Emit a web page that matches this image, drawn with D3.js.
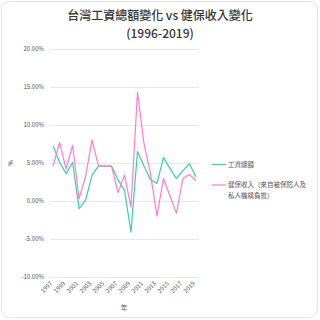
<!DOCTYPE html>
<html><head><meta charset="utf-8">
<script src="https://cdn.jsdelivr.net/npm/d3@7"></script>
<style>html,body{margin:0;padding:0;background:#fff;}svg{display:block;}</style>
</head><body>
<svg id="c" width="320" height="320"></svg>
<script>
const years = [1997,1998,1999,2000,2001,2002,2003,2004,2005,2006,2007,2008,2009,2010,2011,2012,2013,2014,2015,2016,2017,2018,2019];
const wageChange = [7.24,5.1,3.6,5.1,-1.0,0.1,3.4,4.6,4.6,4.6,2.8,1.4,-4.1,6.5,4.6,2.8,2.3,5.7,4.3,2.95,4.0,4.9,3.2];
const insuranceChange = [4.6,7.7,4.2,7.3,0.3,3.2,8.0,4.6,4.6,4.6,1.1,3.4,-0.8,14.3,7.6,3.6,-2.0,2.95,0.7,-1.6,2.95,3.5,2.7];
const yTicks = [-10,-5,0,5,10,15,20];
const xTickLabels = [1997,1999,2001,2003,2005,2007,2009,2011,2013,2015,2017,2019];
const seriesNames = ["工資總額","健保收入（來自被保險人及私人機構負擔）"];
const colors = ["#36d49c","#ff7ad6"];

const svg = d3.select("#c");
const font = "'Noto Sans CJK TC','Noto Sans',sans-serif";
svg.append("rect").attr("x",1.5).attr("y",1.5).attr("width",316).attr("height",316)
  .attr("rx",8).attr("fill","#fff").attr("stroke","#e2e2e2");

svg.append("text").attr("x",160).attr("y",20).attr("text-anchor","middle")
  .attr("font-family",font).attr("font-size",12).attr("font-weight",500).attr("fill","#333")
  .text("台灣工資總額變化 vs 健保收入變化");
svg.append("text").attr("x",160).attr("y",38).attr("text-anchor","middle")
  .attr("font-family",font).attr("font-size",12).attr("font-weight",500).attr("fill","#333")
  .text("(1996-2019)");

const x = d3.scalePoint().domain(years).range([50,199]).padding(0.48);
const y = d3.scaleLinear().domain([-10,20]).range([277,49]);

const yAxis = svg.append("g").attr("transform","translate(50,0)")
  .call(d3.axisLeft(y).tickValues(yTicks).tickSize(-149).tickFormat(d=>d.toFixed(2)+"%"));
yAxis.select(".domain").remove();
yAxis.selectAll("line").attr("stroke","#e8e8e8").attr("stroke-width",1);
yAxis.selectAll("text").attr("font-family",font).attr("font-size",6).attr("fill","#555").attr("x",-6);

const xAxis = svg.append("g").attr("transform","translate(0,277)")
  .call(d3.axisBottom(x).tickValues(xTickLabels).tickSize(0));
xAxis.select(".domain").remove();
xAxis.selectAll("text").attr("font-family",font).attr("font-size",6).attr("fill","#555")
  .attr("text-anchor","end").attr("dy",0).attr("y",0)
  .attr("transform","translate(-1,7) rotate(-45)");

svg.append("text").attr("x",124).attr("y",310).attr("text-anchor","middle")
  .attr("font-family",font).attr("font-size",6.5).attr("fill","#555").text("年");
svg.append("text").attr("transform","translate(13,163) rotate(-90)").attr("text-anchor","middle")
  .attr("font-family",font).attr("font-size",6).attr("fill","#555").text("%");

const line = d3.line().x((d,i)=>x(years[i])).y(d=>y(d));
[wageChange, insuranceChange].forEach((s,k)=>{
  svg.append("path").datum(s).attr("d",line).attr("fill","none")
    .attr("stroke",colors[k]).attr("stroke-width",1.2).attr("stroke-linejoin","round");
});

const lg = svg.append("g").attr("font-family",font).attr("font-size",6.5).attr("fill","#555");
lg.append("line").attr("x1",212).attr("x2",226).attr("y1",164.5).attr("y2",164.5).attr("stroke",colors[0]).attr("stroke-width",1.2);
lg.append("text").attr("x",228).attr("y",166.8).text(seriesNames[0]);
lg.append("line").attr("x1",212).attr("x2",226).attr("y1",185).attr("y2",185).attr("stroke",colors[1]).attr("stroke-width",1.2);
lg.append("text").attr("x",228).attr("y",187.3).text("健保收入（來自被保險人及");
lg.append("text").attr("x",228).attr("y",197.5).text("私人機構負擔）");
</script>
</body></html>
